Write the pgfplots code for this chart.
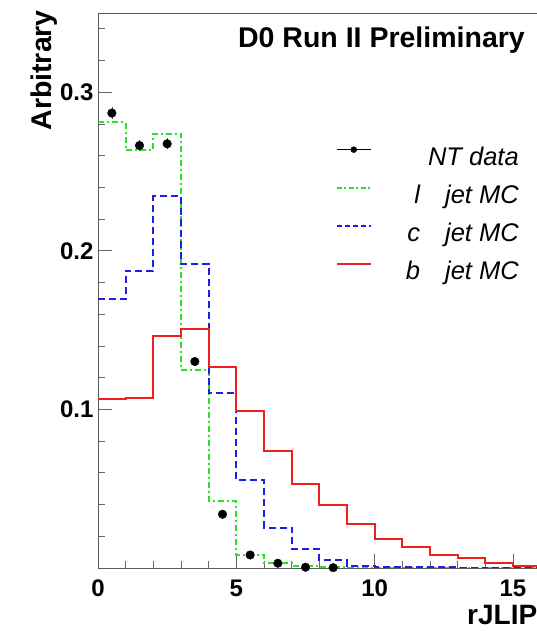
\documentclass[border=0pt]{standalone}
\usepackage{pgfplots}
\pgfplotsset{compat=1.18}
\usepackage{fontspec}
\setmainfont{Liberation Sans}
\definecolor{lgreen}{RGB}{40,225,40}
\definecolor{cblue}{RGB}{30,30,230}
\definecolor{bred}{RGB}{240,30,30}
\begin{document}
\begin{tikzpicture}
\useasboundingbox (0pt,0pt) rectangle (537pt,631pt);
\clip (0pt,0pt) rectangle (537pt,631pt);
\begin{axis}[
  at={(98pt,63pt)}, anchor=south west,
  scale only axis, width=441pt, height=555pt,
  xmin=0, xmax=15.94, ymin=0, ymax=0.350,
  tick pos=left, tick align=inside,
  xtick={0,5,10,15}, xticklabels={0,5,10,15},
  minor xtick={1,2,3,4,6,7,8,9,11,12,13,14},
  ytick={0.1,0.2,0.3}, yticklabels={0.1,0.2,0.3},
  minor ytick={0.02,0.04,0.06,0.08,0.12,0.14,0.16,0.18,0.22,0.24,0.26,0.28,0.32,0.34},
  major tick length=14pt, minor tick length=7pt,
  every tick/.style={black!60, line width=0.8pt},
  axis line style={black!65, line width=0.9pt},
  /pgf/number format/assume math mode=true,
  ticklabel style={font=\fontsize{24}{28}\selectfont\bfseries},
  xticklabel style={yshift=-8pt},
  yticklabel style={xshift=-1pt},
  legend style={draw=none, fill=none, inner sep=0pt, at={(0.9546,0.7604)}, anchor=north east,
    row sep=13pt,
    nodes={inner sep=0pt, text height=19pt, text depth=6pt},
    font=\fontsize{25.5}{30}\selectfont\itshape,
    /tikz/every odd column/.append style={column sep=31pt}},
  legend cell align=right,
]
% histograms
\addplot[lgreen, line width=2pt, dash pattern=on 6pt off 3pt on 2pt off 3pt, const plot mark left, forget plot] coordinates {
(0,0.2810)(1,0.2635)(2,0.2740)(3,0.1250)(4,0.0420)(5,0.0080)(6,0.0032)(7,0.0010)(8,0.0005)(9,0.0003)(10,0.0002)(11,0.0001)(12,0.0001)(13,0.0000)(14,0.0000)(15,0.0000)(16,0.0000)};
\addplot[cblue, line width=2pt, dash pattern=on 7pt off 4pt, const plot mark left, forget plot] coordinates {
(0,0.1695)(1,0.1875)(2,0.2345)(3,0.1915)(4,0.1103)(5,0.0555)(6,0.0255)(7,0.0122)(8,0.0052)(9,0.0015)(10,0.0008)(11,0.0005)(12,0.0004)(13,0.0003)(14,0.0002)(15,0.0002)(16,0.0002)};
\addplot[bred, line width=2pt, const plot mark left, forget plot] coordinates {
(0,0.1063)(1,0.1073)(2,0.1465)(3,0.1505)(4,0.1270)(5,0.0992)(6,0.0738)(7,0.0528)(8,0.0400)(9,0.0278)(10,0.0183)(11,0.0130)(12,0.0084)(13,0.0063)(14,0.0032)(15,0.0015)(16,0.0015)};
% data
\addplot[black, only marks, mark=*, mark size=4.3pt, forget plot,
  error bars/.cd, y dir=both, y explicit, error mark=none,
  error bar style={black!70, line width=0.6pt}] coordinates {
(0.5,0.2869) +- (0,0.0040)
(1.5,0.2664) +- (0,0.0035)
(2.5,0.2675) +- (0,0.0035)
(3.5,0.1302) +- (0,0.0025)
(4.5,0.0339) +- (0,0.0012)
(5.5,0.0082) +- (0,0.0006)
(6.5,0.0030) +- (0,0.0004)
(7.5,0.0005) +- (0,0.0002)
(8.5,0.0002) +- (0,0.0001)};
% legend
\addlegendimage{legend image code/.code={\draw[black,line width=1.3pt] (0pt,9pt) -- (34pt,9pt); \fill[black] (17pt,9pt) circle (3pt);}}
\addlegendentry{\makebox[116pt][r]{NT data}}
\addlegendimage{legend image code/.code={\draw[lgreen,line width=2pt,dash pattern=on 5pt off 2.5pt on 2pt off 2.5pt] (0pt,9pt) -- (34pt,9pt);}}
\addlegendentry{\makebox[116pt][r]{l\hspace{25pt}jet MC}}
\addlegendimage{legend image code/.code={\draw[cblue,line width=2pt,dash pattern=on 5pt off 3pt] (0pt,9pt) -- (34pt,9pt);}}
\addlegendentry{\makebox[116pt][r]{c\hspace{25pt}jet MC}}
\addlegendimage{legend image code/.code={\draw[bred,line width=2pt] (0pt,9pt) -- (34pt,9pt);}}
\addlegendentry{\makebox[116pt][r]{b\hspace{25pt}jet MC}}
\end{axis}
\node[anchor=base east, inner sep=0pt, font=\fontsize{28.5}{34}\selectfont\bfseries] at (525pt,583pt) {D0 Run II Preliminary};
\node[anchor=base east, rotate=90, inner sep=0pt, font=\fontsize{28.5}{34}\selectfont\bfseries] at (51pt,621pt) {Arbitrary};
\node[anchor=base west, inner sep=0pt, font=\fontsize{28}{34}\selectfont\bfseries] at (467pt,6pt) {rJLIP};
\end{tikzpicture}
\end{document}
